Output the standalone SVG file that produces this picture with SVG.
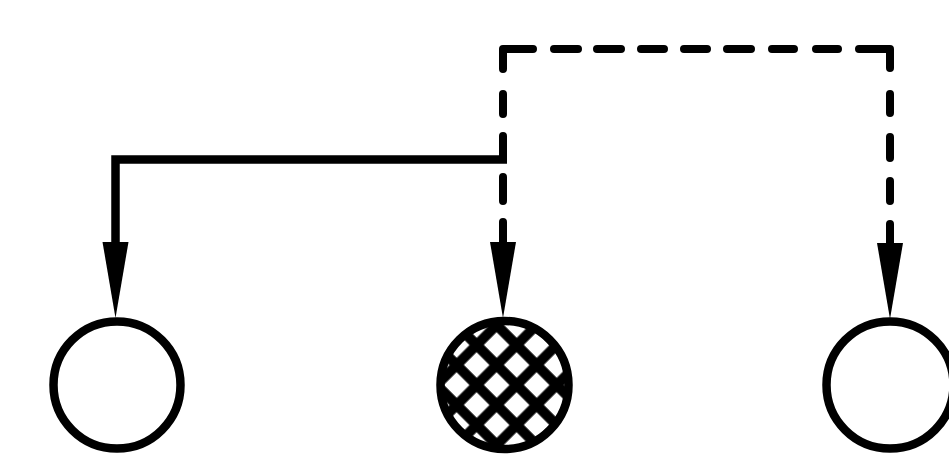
<svg xmlns="http://www.w3.org/2000/svg" width="949" height="457" viewBox="0 0 949 457">
<style>
.node{fill:#fff;stroke:#000;stroke-width:8.5}
.line{fill:none;stroke:#000;stroke-width:8.5;stroke-linecap:butt;stroke-linejoin:miter}
.dash{fill:none;stroke:#000;stroke-width:8;stroke-linecap:round;stroke-linejoin:round}
.arrow{fill:#000}
</style>
<defs>
<pattern id="hatch" patternUnits="userSpaceOnUse" width="28.28" height="28.28" patternTransform="translate(496.7,385) rotate(45)">
<rect width="28.28" height="28.28" fill="#fff"/>
<path d="M0,14.14 H28.28 M14.14,0 V28.28" stroke="#000" stroke-width="10"/>
</pattern>
<polygon id="ah" points="-13,0 13,0 0,76"/>
</defs>
<rect width="949" height="457" fill="#fff"/>
<g id="connectors">
<path class="line" d="M115.5,243 V159.5 H507"/>
<path class="dash" d="M503,69 V49 H533 M503,94 V114 M503,136 V159 M503,177 V201 M503,222 V243"/>
<path class="dash" d="M554,49 H578 M597,49 H621 M641,49 H664 M684,49 H707 M727,49 H751 M772,49 H794 M816,49 H838 M859,49 H890 V68"/>
<path class="dash" d="M890,94 V113 M890,137 V158 M890,181 V201 M890,224 V245"/>
<use href="#ah" class="arrow" x="115.5" y="242"/>
<use href="#ah" class="arrow" x="503" y="242"/>
<use href="#ah" class="arrow" x="890" y="243"/>
</g>
<g id="node-left"><circle class="node" cx="117" cy="385" r="63.5"/></g>
<g id="node-middle"><circle class="node" cx="504.5" cy="385" r="64" style="fill:url(#hatch)"/></g>
<g id="node-right"><circle class="node" cx="890" cy="385" r="63.5"/></g>
</svg>
